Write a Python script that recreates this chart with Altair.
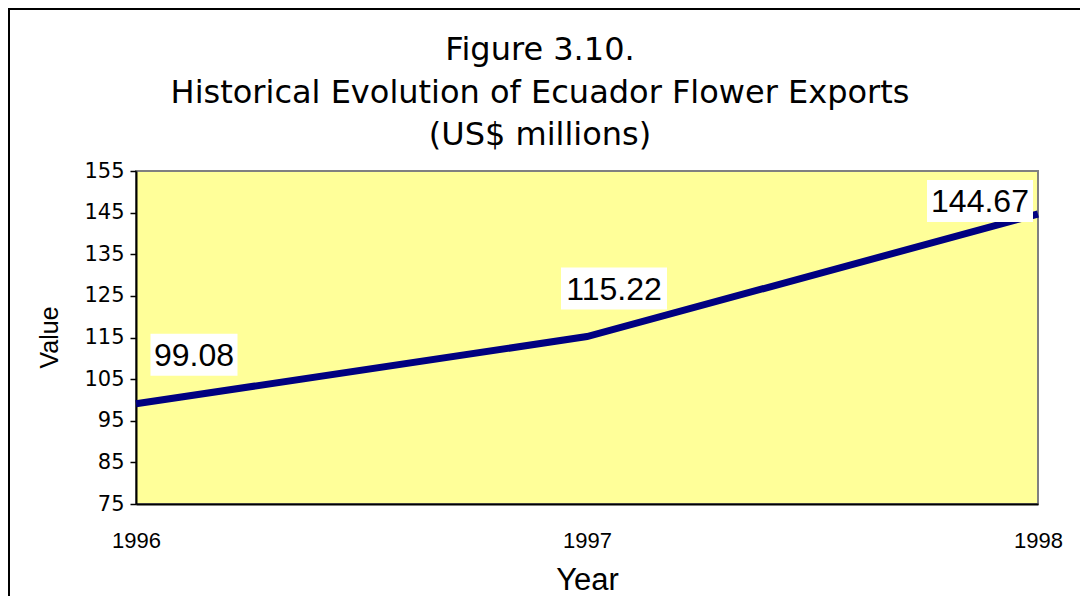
import altair as alt
import pandas as pd

# ---- data ----
years = [1996, 1997, 1998]
values = [99.08, 115.22, 144.67]
labels = ["99.08", "115.22", "144.67"]
y_ticks = [75, 85, 95, 105, 115, 125, 135, 145, 155]
title_lines = ["Figure 3.10.", "Historical Evolution of Ecuador Flower Exports", "(US$ millions)"]

# ---- label styling (pixel offsets / box widths) ----
label_dx = [58, 27, -58]
label_dy = [-49, -48, -13]
box_w = [87, 106, 106]
box_h = 42

FONT = "Liberation Sans"
WIDE = "DejaVu Sans"
df = pd.DataFrame({"Year": [str(y) for y in years], "Value": values, "Label": labels})

x_enc = alt.X(
    "Year:O",
    sort=[str(y) for y in years],
    scale=alt.Scale(type="point", padding=0),
    axis=alt.Axis(
        title="Year", ticks=False, grid=False, labelAngle=0,
        labelFontSize=22, labelPadding=26, labelOverlap=False,
        labelColor="black", labelFont=FONT, labelAlign="center",
        titleFontSize=31, titleFont=FONT, titleFontWeight="normal", titleColor="black",
        titleX=451, titleY=85, titleBaseline="alphabetic", titleAnchor="middle",
        domainColor="black", domainWidth=2,
    ),
)
y_enc = alt.Y(
    "Value:Q",
    scale=alt.Scale(domain=[min(y_ticks), max(y_ticks)], nice=False, zero=False),
    axis=alt.Axis(
        values=y_ticks, title="Value", grid=False, tickSize=6, tickColor="black", tickWidth=1.5,
        labelFontSize=21, labelPadding=6, labelColor="black", labelFont=WIDE,
        labelOverlap=False,
        titleFontSize=25, titleFont=FONT, titleFontWeight="normal", titleColor="black",
        titleX=-79, titleY=166, titleBaseline="alphabetic", titleAngle=-90,
        domainColor="black", domainWidth=2,
    ),
)

base = alt.Chart(df)
line = base.mark_line(color="#000080", strokeWidth=7, strokeCap="butt").encode(x=x_enc, y=y_enc)

layers = [line]
for i, yr in enumerate(years):
    w = box_w[i]
    h = box_h / w
    shape = f"M-1,-{h:.4f}H1V{h:.4f}H-1Z"
    box = base.transform_filter(alt.datum.Year == str(yr)).mark_point(
        shape=shape, size=w * w, filled=True, color="white", opacity=1, strokeWidth=0,
        xOffset=label_dx[i], yOffset=label_dy[i],
    ).encode(x=x_enc, y=y_enc)
    txt = base.transform_filter(alt.datum.Year == str(yr)).mark_text(
        font=FONT, fontSize=32, color="black", align="center", baseline="middle",
        dx=label_dx[i], dy=label_dy[i] + 1,
    ).encode(x=x_enc, y=y_enc, text="Label:N")
    layers += [box, txt]

single = alt.Chart(pd.DataFrame({"k": [0]}))
title_mark = single.mark_text(
    font=WIDE, fontSize=32, color="black", align="center", baseline="alphabetic",
    lineHeight=42.5,
).encode(x=alt.value(404), y=alt.value(-111), text=alt.value(title_lines))
top_rule = single.mark_rule(color="black", strokeWidth=2).encode(
    x=alt.value(-128), x2=alt.value(944), y=alt.value(-162))
left_rule = single.mark_rule(color="black", strokeWidth=2).encode(
    x=alt.value(-127), y=alt.value(-163), y2=alt.value(425))

chart = alt.layer(*layers, title_mark, top_rule, left_rule).properties(
    width=902,
    height=333,
    autosize=alt.AutoSizeParams(type="none"),
    padding={"left": 128, "top": 163, "right": 42, "bottom": 92},
    background="white",
).configure_view(
    fill="#FFFF99", stroke="#808080", strokeWidth=2
)

chart.save("out.html", embed_options={"renderer": "svg", "actions": False})
